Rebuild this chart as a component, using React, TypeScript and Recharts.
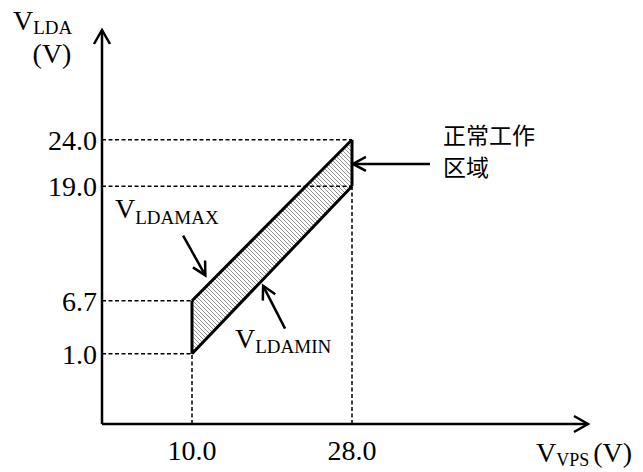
import React from 'react';
import {
  ComposedChart,
  Area,
  Line,
  XAxis,
  YAxis,
  ReferenceLine,
  ReferenceDot,
  Label,
} from 'recharts';

// operating window of V_LDA vs V_VPS
const vpsPoints = [10.0, 28.0];
const vldaMin = [1.0, 19.0];
const vldaMax = [6.7, 24.0];
const xTicks = [10.0, 28.0];
const yTicks = [1.0, 6.7, 19.0, 24.0];

const xDomain: [number, number] = [-0.125, 54.55];
const yDomain: [number, number] = [-6.55, 35.8];

const data = vpsPoints.map((v, i) => ({
  vps: v,
  min: vldaMin[i],
  max: vldaMax[i],
  range: [vldaMin[i], vldaMax[i]],
}));

// annotation arrows, in data units
const maxArrow = [{ x: 9.0, y: 13.7 }, { x: 11.5, y: 9.43 }];
const minArrow = [{ x: 20.47, y: 3.7 }, { x: 18.0, y: 8.3 }];
const zoneArrow = [{ x: 36.77, y: 21.4 }, { x: 28.1, y: 21.4 }];

const serif = '"Liberation Serif", "Times New Roman", serif';
const cjk = '"Noto Sans CJK SC", sans-serif';
const mainSize = 28;
const subSize = 19;

const makeArrow = (width: number, len: number, half: number) => (p: any) => {
  const { x1, y1, x2, y2 } = p;
  const a = Math.atan2(y2 - y1, x2 - x1);
  const bx = x2 - len * Math.cos(a);
  const by = y2 - len * Math.sin(a);
  const h1 = `${bx + half * Math.sin(a)},${by - half * Math.cos(a)}`;
  const h2 = `${bx - half * Math.sin(a)},${by + half * Math.cos(a)}`;
  return (
    <g>
      <line x1={x1} y1={y1} x2={x2} y2={y2} stroke="#000" strokeWidth={width} />
      <polyline
        points={`${h1} ${x2},${y2} ${h2}`}
        fill="none"
        stroke="#000"
        strokeWidth={width}
        strokeLinejoin="miter"
      />
    </g>
  );
};

const axisArrow = makeArrow(2.5, 14, 8);
const noteArrow = makeArrow(2.5, 13, 7);

const subText = (main: string, sub: string, x: number, y: number, shift = 5) => (
  <text x={x} y={y} fontFamily={serif} fontSize={mainSize} fill="#000">
    {main}
    <tspan fontSize={subSize} dy={shift}>
      {sub}
    </tspan>
  </text>
);

const YTitle = (props: any) => {
  const vb = props.viewBox || { x: 0, y: 30 };
  return (
    <g>
      {subText('V', 'LDA', vb.x + 13, vb.y, 4)}
      <text x={vb.x + 52} y={vb.y + 33} textAnchor="middle" fontFamily={serif} fontSize={mainSize} fill="#000">
        (V)
      </text>
    </g>
  );
};

const XTitle = (props: any) => {
  const vb = props.viewBox || { x: 102, y: 424, width: 486 };
  return (
    <text x={vb.x + vb.width - 52} y={vb.y + 38} fontFamily={serif} fontSize={mainSize} fill="#000">
      V
      <tspan fontSize={18} dy={4}>
        VPS
      </tspan>
      <tspan dy={-4} dx={4}>
        (V)
      </tspan>
    </text>
  );
};

const dashed = { stroke: '#000', strokeWidth: 1.5, strokeDasharray: '4 2.5' };

export default function App() {
  const tickStyle = { fontSize: mainSize, fill: '#000', fontFamily: serif };

  return (
    <div style={{ position: 'absolute', left: 0, top: 0, background: '#fff' }}>
      <ComposedChart
        width={643}
        height={472}
        data={data}
        margin={{ top: 30, right: 55, bottom: 0, left: 0 }}
      >
        <defs>
          <pattern id="hatch" width="4" height="4" patternUnits="userSpaceOnUse">
            <path d="M0,0 L4,4 M-1,3 L1,5 M3,-1 L5,1" stroke="#666" strokeWidth={0.7} />
          </pattern>
        </defs>
        <XAxis
          type="number"
          dataKey="vps"
          domain={xDomain}
          ticks={xTicks}
          interval={0}
          allowDataOverflow
          tickFormatter={(v: number) => v.toFixed(1)}
          axisLine={false}
          tickLine={false}
          tickSize={0}
          tickMargin={16}
          height={48}
          tick={tickStyle}
        >
          <Label content={XTitle} />
        </XAxis>
        <YAxis
          type="number"
          domain={yDomain}
          ticks={yTicks}
          interval={0}
          allowDataOverflow
          tickFormatter={(v: number) => v.toFixed(1)}
          axisLine={false}
          tickLine={false}
          tickSize={0}
          tickMargin={5}
          width={102}
          tick={tickStyle}
        >
          <Label content={YTitle} />
        </YAxis>

        <Area
          type="linear"
          dataKey="range"
          stroke="none"
          fill="url(#hatch)"
          fillOpacity={1}
          isAnimationActive={false}
        />

        {vpsPoints.map((v, i) => (
          <ReferenceLine
            key={`hmax${i}`}
            segment={[{ x: xDomain[0], y: vldaMax[i] }, { x: v, y: vldaMax[i] }]}
            {...dashed}
            ifOverflow="visible"
          />
        ))}
        {vpsPoints.map((v, i) => (
          <ReferenceLine
            key={`hmin${i}`}
            segment={[{ x: xDomain[0], y: vldaMin[i] }, { x: v, y: vldaMin[i] }]}
            {...dashed}
            ifOverflow="visible"
          />
        ))}
        {vpsPoints.map((v, i) => (
          <ReferenceLine
            key={`v${i}`}
            segment={[{ x: v, y: yDomain[0] }, { x: v, y: vldaMin[i] }]}
            {...dashed}
            ifOverflow="visible"
          />
        ))}

        <Line
          type="linear"
          dataKey="max"
          stroke="#000"
          strokeWidth={3}
          dot={false}
          activeDot={false}
          isAnimationActive={false}
        />
        <Line
          type="linear"
          dataKey="min"
          stroke="#000"
          strokeWidth={3}
          dot={false}
          activeDot={false}
          isAnimationActive={false}
        />
        {vpsPoints.map((v, i) => (
          <ReferenceLine
            key={`edge${i}`}
            segment={[{ x: v, y: vldaMin[i] }, { x: v, y: vldaMax[i] }]}
            stroke="#000"
            strokeWidth={3}
            ifOverflow="visible"
          />
        ))}

        {/* axes with arrow heads */}
        <ReferenceLine
          segment={[{ x: xDomain[0], y: yDomain[0] }, { x: xDomain[0], y: yDomain[1] }]}
          shape={axisArrow}
          ifOverflow="visible"
        />
        <ReferenceLine
          segment={[{ x: xDomain[0], y: yDomain[0] }, { x: xDomain[1], y: yDomain[0] }]}
          shape={axisArrow}
          ifOverflow="visible"
        />

        {/* callouts */}
        <ReferenceLine segment={maxArrow} shape={noteArrow} ifOverflow="visible" />
        <ReferenceLine segment={minArrow} shape={noteArrow} ifOverflow="visible" />
        <ReferenceLine segment={zoneArrow} shape={noteArrow} ifOverflow="visible" />

        <ReferenceDot
          x={1.34}
          y={15.59}
          r={0}
          ifOverflow="visible"
          shape={(p: any) => subText('V', 'LDAMAX', p.cx, p.cy, 6)}
        />
        <ReferenceDot
          x={14.84}
          y={1.62}
          r={0}
          ifOverflow="visible"
          shape={(p: any) => subText('V', 'LDAMIN', p.cx, p.cy, 5)}
        />
        <ReferenceDot
          x={38.24}
          y={23.55}
          r={0}
          ifOverflow="visible"
          shape={(p: any) => (
            <text x={p.cx} y={p.cy} fontFamily={cjk} fontSize={23} fill="#000">
              正常工作
            </text>
          )}
        />
        <ReferenceDot
          x={38.24}
          y={20.1}
          r={0}
          ifOverflow="visible"
          shape={(p: any) => (
            <text x={p.cx} y={p.cy} fontFamily={cjk} fontSize={23} fill="#000">
              区域
            </text>
          )}
        />
      </ComposedChart>
    </div>
  );
}
